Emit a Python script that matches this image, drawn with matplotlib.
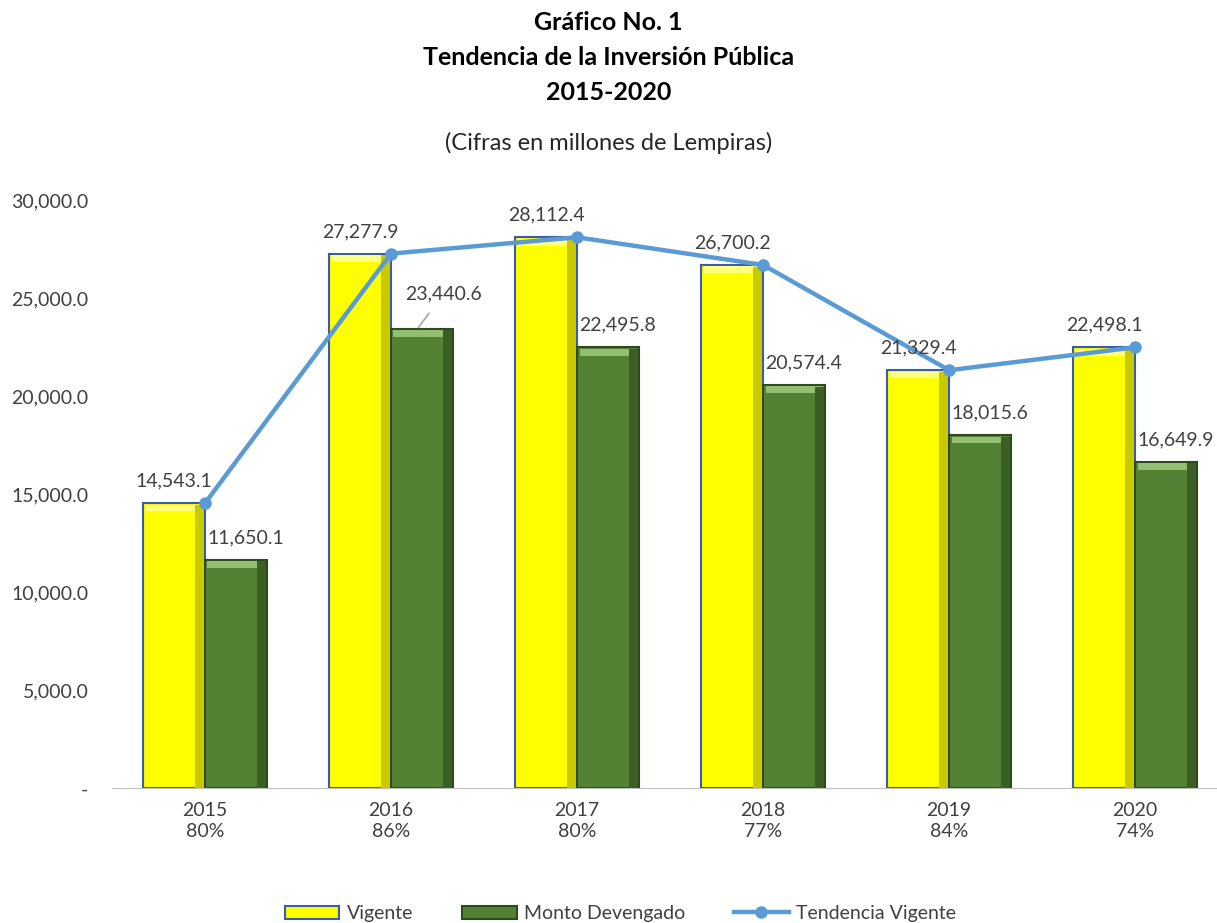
import numpy as np
import matplotlib.pyplot as plt

plt.rcParams['font.family'] = ['Lato', 'DejaVu Sans']

years = ['2015', '2016', '2017', '2018', '2019', '2020']
pcts = ['80%', '86%', '80%', '77%', '84%', '74%']
vigente = [14543.1, 27277.9, 28112.4, 26700.2, 21329.4, 22498.1]
devengado = [11650.1, 23440.6, 22495.8, 20574.4, 18015.6, 16649.9]
yticks = [0, 5000, 10000, 15000, 20000, 25000, 30000]

txt = '#404040'
fig = plt.figure(figsize=(12.17, 9.23), dpi=100)
ax = fig.add_axes([0.092, 0.146, 0.908, 0.637])

x = np.arange(len(years))
w = 0.333
ax.bar(x - w / 2, vigente, w, color='#FFFF00', edgecolor='#3B5CA8', linewidth=1.5,
       label='Vigente', zorder=2)
ax.bar(x + w / 2, devengado, w, color='#548235', edgecolor='#2E4A1C', linewidth=1.5,
       label='Monto Devengado', zorder=2)
# bevel look: light top strip, dark right strip
ax.bar(x - w / 2, [350] * len(x), w * 0.92, bottom=np.array(vigente) - 420, color='#FFFF80',
       linewidth=0, zorder=3)
ax.bar(x + w / 2, [350] * len(x), w * 0.92, bottom=np.array(devengado) - 420, color='#93C070',
       linewidth=0, zorder=3)
ax.bar(x - 0.03, np.array(vigente) - 80, 0.05, color='#C9C900', linewidth=0, zorder=3)
ax.bar(x + w - 0.03, np.array(devengado) - 80, 0.05, color='#3A5E24', linewidth=0, zorder=3)
ax.plot(x, vigente, color='#5B9BD5', linewidth=3.2, marker='o', markersize=8,
        label='Tendencia Vigente', zorder=4)

for i in x:
    ax.annotate(f'{vigente[i]:,.1f}', (i - w / 2, vigente[i]), xytext=(0, 16),
                textcoords='offset points', ha='center', va='center', fontsize=14, color=txt, zorder=5)
    if i == 1:
        ax.annotate(f'{devengado[i]:,.1f}', (i + w / 2 - 0.02, devengado[i] + 60), xytext=(18, 24),
                    textcoords='offset points', ha='center', va='center', fontsize=14, color=txt,
                    zorder=5, arrowprops=dict(arrowstyle='-', color='#A6A6A6', lw=1.2,
                                              shrinkA=7, shrinkB=0))
    else:
        ax.annotate(f'{devengado[i]:,.1f}', (i + w / 2, devengado[i]), xytext=(7, 16),
                    textcoords='offset points', ha='center', va='center', fontsize=14, color=txt,
                    zorder=5)

ax.set_xlim(-0.5, 5.44)
ax.set_ylim(0, 30000)
ax.set_yticks(yticks)
ax.set_yticklabels(['-' if v == 0 else f'{v:,.1f}' for v in yticks], fontsize=14, color=txt)
ax.set_xticks(x)
ax.set_xticklabels([f'{y}\n{p}' for y, p in zip(years, pcts)], fontsize=14, color=txt,
                   linespacing=1.3)
ax.tick_params(length=0, pad=10)
ax.tick_params(axis='y', pad=17)
for s in ['top', 'right', 'left']:
    ax.spines[s].set_visible(False)
ax.spines['bottom'].set_color('#BFBFBF')

fig.text(0.5, 0.976, 'Gráfico No. 1', ha='center', va='center', fontsize=18, fontweight='bold')
fig.text(0.5, 0.938, 'Tendencia de la Inversión Pública', ha='center', va='center', fontsize=18,
         fontweight='bold')
fig.text(0.5, 0.900, '2015-2020', ha='center', va='center', fontsize=18, fontweight='bold')
fig.text(0.5, 0.845, '(Cifras en millones de Lempiras)', ha='center', va='center', fontsize=17,
         color='#262626')

handles, labels = ax.get_legend_handles_labels()
order = [1, 2, 0]
fig.legend([handles[k] for k in order], [labels[k] for k in order], loc='center',
           bbox_to_anchor=(0.51, 0.01), ncol=3, frameon=False, fontsize=14,
           handlelength=2.8, handletextpad=0.4, columnspacing=2.5, labelcolor=txt)

fig.savefig('out.png', dpi=100)
